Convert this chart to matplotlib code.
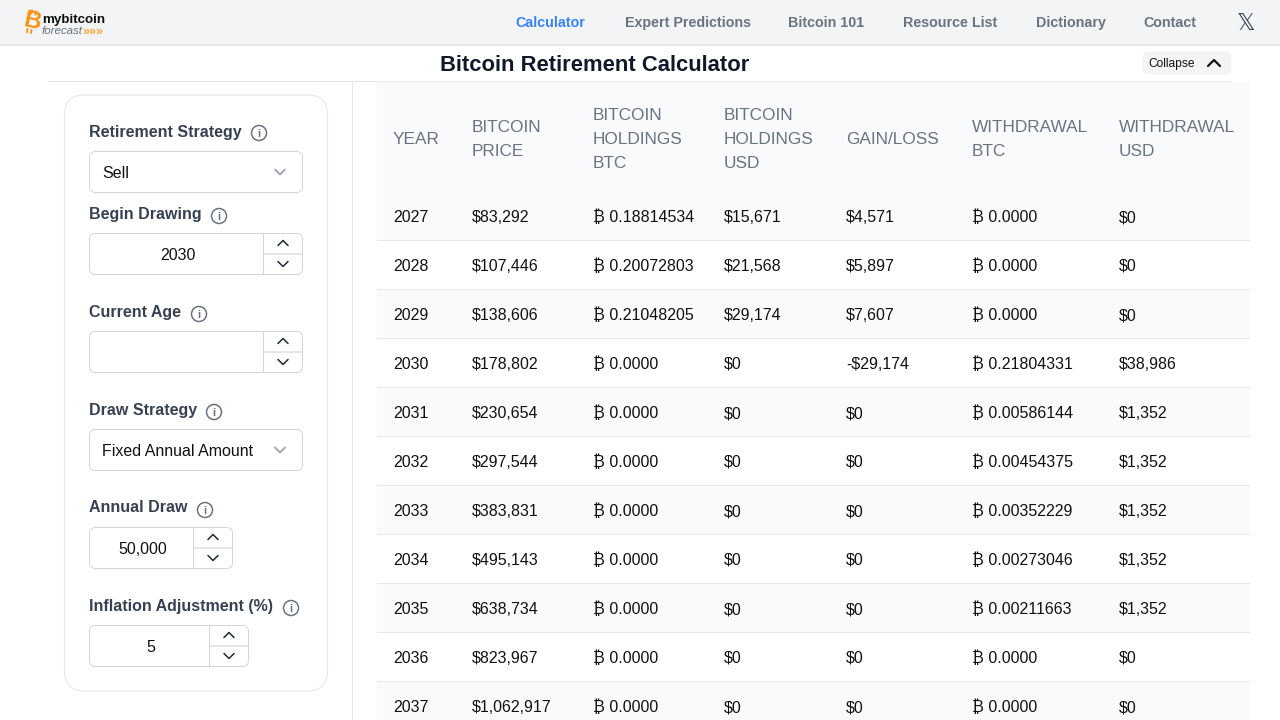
"""
Bitcoin retirement calculator page: nav bar, input form on the left, projection table on the right.
Everything is drawn on one axes in pixel coordinates.
"""

import matplotlib
matplotlib.use("Agg")
import matplotlib.pyplot as plt
from matplotlib.patches import FancyBboxPatch, Circle, Rectangle

plt.rcParams["font.family"] = ["Liberation Sans", "DejaVu Sans"]

nav_items = ["Calculator", "Expert Predictions", "Bitcoin 101", "Resource List", "Dictionary", "Contact"]

headers = [
    ["YEAR"],
    ["BITCOIN", "PRICE"],
    ["BITCOIN", "HOLDINGS", "BTC"],
    ["BITCOIN", "HOLDINGS", "USD"],
    ["GAIN/LOSS"],
    ["WITHDRAWAL", "BTC"],
    ["WITHDRAWAL", "USD"],
]

years = ["2027", "2028", "2029", "2030", "2031", "2032", "2033", "2034", "2035", "2036", "2037"]
prices = ["$83,292", "$107,446", "$138,606", "$178,802", "$230,654", "$297,544",
          "$383,831", "$495,143", "$638,734", "$823,967", "$1,062,917"]
holdings_btc = ["₿ 0.18814534", "₿ 0.20072803", "₿ 0.21048205", "₿ 0.0000", "₿ 0.0000", "₿ 0.0000",
                "₿ 0.0000", "₿ 0.0000", "₿ 0.0000", "₿ 0.0000", "₿ 0.0000"]
holdings_usd = ["$15,671", "$21,568", "$29,174", "$0", "$0", "$0", "$0", "$0", "$0", "$0", "$0"]
gain_loss = ["$4,571", "$5,897", "$7,607", "-$29,174", "$0", "$0", "$0", "$0", "$0", "$0", "$0"]
withdrawal_btc = ["₿ 0.0000", "₿ 0.0000", "₿ 0.0000", "₿ 0.21804331", "₿ 0.00586144", "₿ 0.00454375",
                  "₿ 0.00352229", "₿ 0.00273046", "₿ 0.00211663", "₿ 0.0000", "₿ 0.0000"]
withdrawal_usd = ["$0", "$0", "$0", "$38,986", "$1,352", "$1,352", "$1,352", "$1,352", "$1,352", "$0", "$0"]

GRAY_BG = "#f3f4f6"
LINE = "#e5e7eb"
INPUT_EDGE = "#d1d5db"
LABEL = "#374151"
TEXT = "#111111"
ORANGE = "#f7931a"


def px(size):
    # css pixels to points at dpi 100
    return size * 0.72


fig = plt.figure(figsize=(12.8, 7.2), dpi=100)
ax = fig.add_axes([0, 0, 1, 1])
ax.set_xlim(0, 1280)
ax.set_ylim(720, 0)
ax.axis("off")


def rect(x0, y0, x1, y1, color, z=1):
    ax.add_patch(Rectangle((x0, y0), x1 - x0, y1 - y0, facecolor=color, edgecolor="none", zorder=z))


def rbox(x0, y0, x1, y1, r, face="white", edge=INPUT_EDGE, lw=0.72, z=2):
    # inset half a pixel so 1px borders land on whole pixels
    x0, y0, x1, y1 = x0 + 0.5, y0 + 0.5, x1 - 0.5, y1 - 0.5
    ax.add_patch(FancyBboxPatch((x0 + r, y0 + r), x1 - x0 - 2 * r, y1 - y0 - 2 * r,
                                boxstyle=f"round,pad={r},rounding_size={r}",
                                facecolor=face, edgecolor=edge, linewidth=lw, zorder=z))


def chevron(cx, cy, w, h, up=True, color="#1f2937", lw=1.1):
    tip = cy - h / 2 if up else cy + h / 2
    end = cy + h / 2 if up else cy - h / 2
    ax.plot([cx - w / 2, cx, cx + w / 2], [end, tip, end], color=color, linewidth=lw, zorder=5,
            solid_capstyle="round", solid_joinstyle="round")


def info_icon(cx, cy):
    ax.add_patch(Circle((cx, cy), 7.5, facecolor="white", edgecolor="#6b7280", linewidth=1.1, zorder=4))
    ax.text(cx, cy + 4, "i", fontsize=px(11), color="#6b7280", ha="center", va="baseline",
            fontweight="bold", zorder=5)


def spinner(x0, y0, x1, divider, value, value_x):
    y1 = y0 + 42
    rbox(x0, y0, x1, y1, 6)
    rect(divider, y0 + 1, divider + 1, y1 - 1, INPUT_EDGE, z=3)
    rect(divider + 1, y0 + 20, x1 - 1, y0 + 22, LINE, z=3)
    chevron((divider + x1) / 2, y0 + 10, 10, 5, up=True)
    chevron((divider + x1) / 2, y0 + 31, 10, 5, up=False)
    if value:
        ax.text(value_x, y0 + 27, value, fontsize=px(16), color=TEXT, ha="center", va="baseline", zorder=5)


def select(x0, y0, x1, value):
    rbox(x0, y0, x1, y0 + 42, 6)
    ax.text(x0 + 13, y0 + 27, value, fontsize=px(16), color=TEXT, va="baseline", zorder=5)
    chevron(280, y0 + 21, 10, 5, up=False, color="#9ca3af", lw=1.3)


def label(text, baseline, icon_x, icon_y):
    ax.text(89, baseline, text, fontsize=px(16), color=LABEL, fontweight="bold", va="baseline", zorder=5)
    info_icon(icon_x, icon_y)


# --- nav bar ---
rect(0, 0, 1280, 44, GRAY_BG)
rect(0, 44, 1280, 45.5, LINE)

# bitcoin logo: slanted bold B with the little ticks
ax.text(32, 21.5, "B", fontsize=px(24), color=ORANGE, fontweight="bold", ha="center", va="center",
        rotation=-12, rotation_mode="anchor", zorder=5)
for x, y in [(32, 10.5), (36, 11.5), (27.5, 29), (31.5, 30)]:
    ax.plot([x, x - 0.6], [y, y + 3], color=ORANGE, linewidth=1.3, zorder=5)

ax.text(42, 23, "mybitcoin", fontsize=px(13.4), color="#111111", fontweight="bold", va="baseline", zorder=5)
ax.text(42, 34, "forecast", fontsize=px(11.5), color="#6b7280", style="italic", va="baseline", zorder=5)
ax.text(82.5, 34.5, "»»»", fontsize=px(12.5), color="#f9a63a", fontweight="bold", va="baseline", zorder=5)

nav_x = [515.8, 624.8, 787.8, 902.8, 1035.8, 1143.8]
for i, (name, x) in enumerate(zip(nav_items, nav_x)):
    ax.text(x, 27, name, fontsize=px(14.2), fontweight="bold", va="baseline", zorder=5,
            color="#3b82f6" if i == 0 else "#6b7280")

# X logo
ax.text(1246, 30, "\U0001D54F", fontsize=px(23), color="#374151", ha="center", va="baseline",
        family="DejaVu Sans", zorder=5)

# --- title bar ---
rect(48, 45.5, 1232, 81, "white", z=2)
rect(48, 81, 1232, 82, LINE, z=2)
ax.text(595, 71, "Bitcoin Retirement Calculator", fontsize=px(22), fontweight="bold", color="#111827",
        ha="center", va="baseline", zorder=5)
rbox(1142, 51, 1232, 75, 6, face=GRAY_BG, edge="none", lw=0, z=3)
ax.text(1148.5, 67, "Collapse", fontsize=px(12), color=TEXT, va="baseline", zorder=5)
chevron(1214, 63, 12, 6, up=True, color="#111111", lw=1.6)

# --- form panel ---
rbox(64, 94.5, 328, 691.5, 20, edge=LINE, lw=0.8)
rect(352, 82, 353, 720, LINE)

label("Retirement Strategy", 136.5, 259, 133)
select(89, 151, 303, "Sell")
label("Begin Drawing", 219.5, 219, 216)
spinner(89, 233, 303, 263, "2030", 178)
label("Current Age", 316.5, 199, 314)
spinner(89, 331, 303, 263, "", 178)
label("Draw Strategy", 414.5, 214, 412)
select(89, 429, 303, "Fixed Annual Amount")
label("Annual Draw", 512.5, 205, 510)
spinner(89, 527, 233, 193, "50,000", 143)
label("Inflation Adjustment (%)", 610.5, 291, 608)
spinner(89, 625, 249, 209, "5", 151)

# --- table ---
col_x = [393, 472, 593, 724, 846, 972, 1119]
rect(377, 82, 1250, 192, "#f9fafb")
for i, lines in enumerate(headers):
    first = 144 - 12 * (len(lines) - 1)
    for j, line in enumerate(lines):
        ax.text(col_x[i], first + 24 * j, line, fontsize=px(17.3), color="#6b7280", va="baseline", zorder=5)

columns = [years, prices, holdings_btc, holdings_usd, gain_loss, withdrawal_btc, withdrawal_usd]
for r in range(len(years)):
    top = 192 + 49 * r
    if r % 2 == 0:
        rect(377, top, 1250, top + 48, "#f9fafb")
    rect(377, top + 48, 1250, top + 49, LINE, z=2)
    for c, values in enumerate(columns):
        ax.text(col_x[c], top + 30, values[r], fontsize=px(16), color=TEXT, va="baseline", zorder=5)

fig.savefig("out.png", dpi=100)
